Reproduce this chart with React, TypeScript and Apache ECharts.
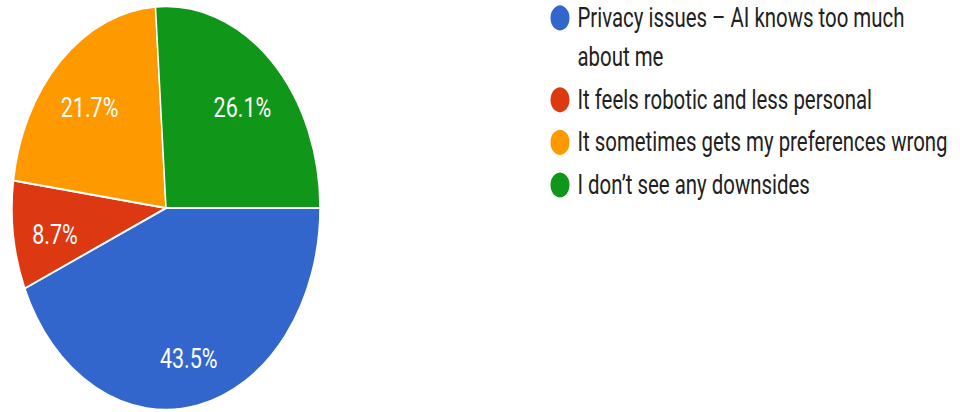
import React, { useEffect, useRef } from "react";
import * as echarts from "echarts";

const categories = [
  "Privacy issues – AI knows too much about me",
  "It feels robotic and less personal",
  "It sometimes gets my preferences wrong",
  "I don’t see any downsides",
];
const counts = [10, 2, 5, 6];
const colors = ["#3366cc", "#dc3912", "#ff9900", "#109618"];
const legendLabels = [
  "\nPrivacy issues – AI knows too much\nabout me",
  "It feels robotic and less personal",
  "It sometimes gets my preferences wrong",
  "I don’t see any downsides",
];

const W = 960;
const H = 412;
const S = 1.31; // vertical stretch of the reference picture
const innerH = H / S;

export default function App() {
  const ref = useRef<HTMLDivElement>(null);
  useEffect(() => {
    document.body.style.margin = "0";
    if (!ref.current) return;
    const chart = echarts.init(ref.current, undefined, { renderer: "svg" });
    const data = categories.map((name, i) => ({
      name,
      value: counts[i],
      itemStyle: { color: colors[i] },
    }));
    chart.setOption({
      animation: false,
      color: colors,
      legend: {
        orient: "vertical",
        left: 548.5,
        top: -31.3,
        padding: 0,
        icon: "circle",
        itemWidth: 25,
        itemHeight: 21,
        itemGap: 2.5,
        selectedMode: false,
        data: categories,
        formatter: (name: string) => legendLabels[categories.indexOf(name)],
        textStyle: {
          fontFamily: "Roboto",
          fontSize: 20.4,
          lineHeight: 30,
          color: "#212121",
        },
      },
      series: [
        {
          type: "pie",
          center: [166, 208 / S],
          radius: [0, 154],
          startAngle: 0,
          clockwise: true,
          silent: true,
          label: { show: false },
          labelLine: { show: false },
          itemStyle: { borderColor: "#ffffff", borderWidth: 1.5 },
          data,
        },
        {
          type: "pie",
          center: [166, 208 / S],
          radius: [64, 154],
          startAngle: 0,
          clockwise: true,
          silent: true,
          legendHoverLink: false,
          percentPrecision: 1,
          itemStyle: { color: "transparent", borderWidth: 0 },
          label: {
            show: true,
            position: "inside",
            formatter: "{d}%",
            fontFamily: "Roboto",
            fontSize: 21.5,
            color: "#ffffff",
            offset: [0, 5],
          },
          labelLine: { show: false },
          data: categories.map((name, i) => ({
            name,
            value: counts[i],
            itemStyle: { color: "transparent" },
          })),
        },
      ],
    });
    return () => chart.dispose();
  }, []);
  return (
    <div
      style={{
        position: "fixed",
        left: 0,
        top: 0,
        width: W,
        height: H,
        overflow: "hidden",
        background: "#ffffff",
      }}
    >
      <div
        ref={ref}
        style={{
          width: W,
          height: innerH,
          transform: `scaleY(${S})`,
          transformOrigin: "0 0",
        }}
      />
    </div>
  );
}
